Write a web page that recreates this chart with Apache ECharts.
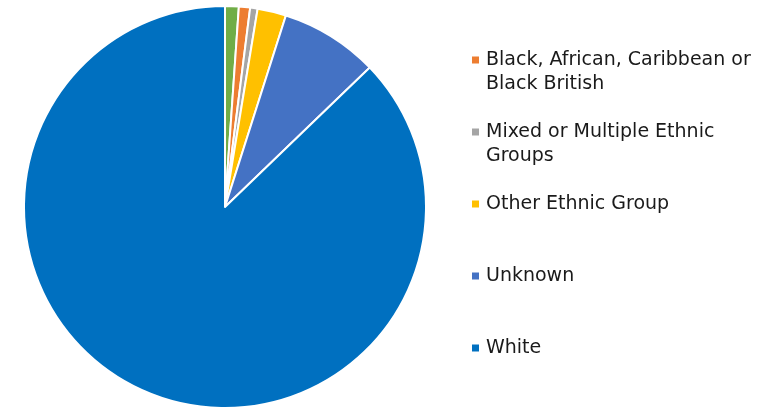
<!DOCTYPE html>
<html>
<head>
<meta charset="utf-8">
<script src="https://cdn.jsdelivr.net/npm/echarts@6/dist/echarts.min.js"></script>
<style>
  html, body { margin: 0; padding: 0; background: #ffffff; }
  #chart { width: 779px; height: 409px; }
</style>
</head>
<body>
<div id="chart"></div>
<script>
// Ethnic group share (percent), clockwise from 12 o'clock
const categories = [
  'Asian or Asian British',
  'Black, African, Caribbean or Black British',
  'Mixed or Multiple Ethnic Groups',
  'Other Ethnic Group',
  'Unknown',
  'White'
];
const shares = [1.1, 0.9, 0.6, 2.3, 7.9, 87.2];
const colors = ['#70AD47', '#ED7D31', '#A5A5A5', '#FFC000', '#4472C4', '#0070C0'];

// Legend entries shown in the side list, with their wrapped text
const legendNames = categories.slice(1);
const legendLines = {
  'Black, African, Caribbean or Black British': ['Black, African, Caribbean or', 'Black British'],
  'Mixed or Multiple Ethnic Groups': ['Mixed or Multiple Ethnic', 'Groups'],
  'Other Ethnic Group': ['Other Ethnic Group'],
  'Unknown': ['Unknown'],
  'White': ['White']
};

const chart = echarts.init(document.getElementById('chart'), null, { renderer: 'canvas' });

chart.setOption({
  animation: false,
  color: colors,
  legend: {
    orient: 'vertical',
    left: 472,
    top: 24,
    padding: 0,
    itemWidth: 7,
    itemHeight: 7,
    itemGap: 0,
    icon: 'rect',
    itemStyle: { borderWidth: 0 },
    selectedMode: false,
    data: legendNames,
    // three text rows per entry: a blank row above keeps the marker level with the first row
    formatter: function (name) {
      const lines = legendLines[name];
      return '\n' + lines[0] + '\n' + (lines[1] || '');
    },
    textStyle: {
      fontFamily: 'DejaVu Sans, sans-serif',
      fontSize: 19,
      lineHeight: 24,
      padding: [0, 0, 0, 2],
      color: '#1a1a1a'
    }
  },
  series: [{
    type: 'pie',
    center: [225, 207],
    radius: 201,
    startAngle: 90,
    clockwise: true,
    silent: true,
    label: { show: false },
    labelLine: { show: false },
    itemStyle: { borderColor: '#ffffff', borderWidth: 2 },
    data: categories.map(function (c, i) {
      return { name: c, value: shares[i] };
    })
  }]
});
</script>
</body>
</html>
